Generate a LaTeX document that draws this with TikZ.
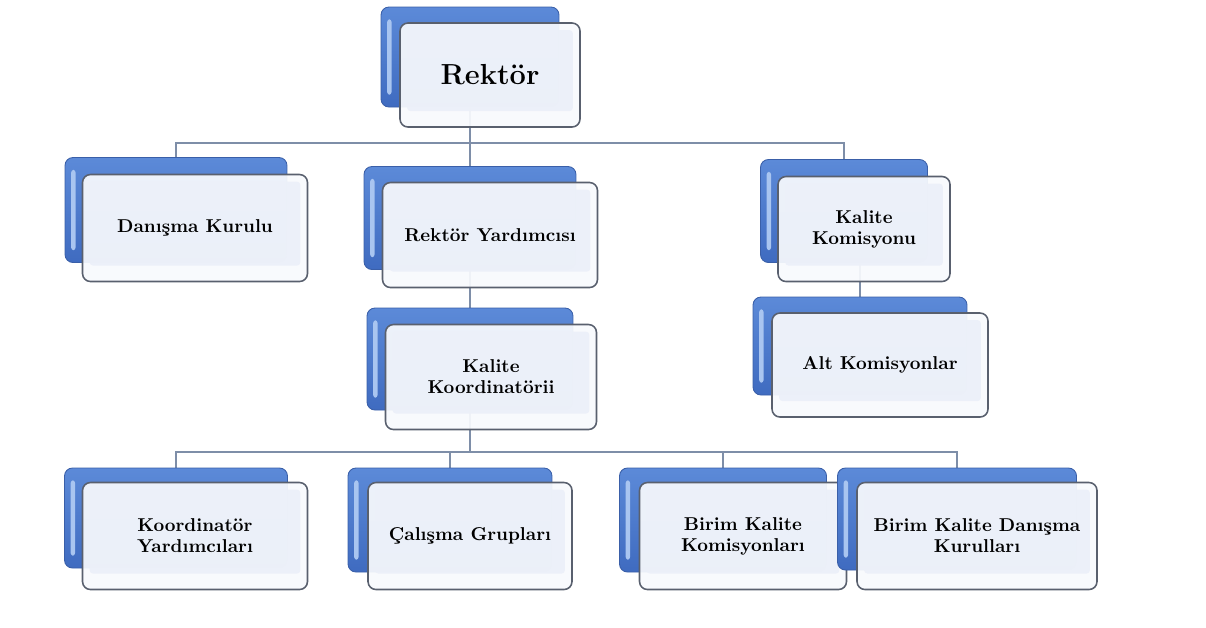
\documentclass[tikz,border=0pt]{standalone}
\usepackage{fontspec}
\usetikzlibrary{backgrounds}

\definecolor{boxtop}{HTML}{5C8AD8}
\definecolor{boxbot}{HTML}{3F6BC0}
\definecolor{boxline}{HTML}{3A5FA8}
\definecolor{boxhi}{HTML}{A9C5F0}
\definecolor{frontfill}{HTML}{F8FAFD}
\definecolor{frontin}{HTML}{ECF0F9}
\definecolor{frontline}{HTML}{59606E}
\definecolor{connline}{HTML}{7E8EA8}

\tikzset{
  back/.style={draw=boxline, line width=0.5pt, top color=boxtop, bottom color=boxbot,
    rounded corners=4.5pt, inner sep=0pt,
    path picture={\fill[boxhi, rounded corners=1.5pt]
      ([xshift=3.5pt,yshift=-7pt]path picture bounding box.north west) rectangle
      ([xshift=6pt,yshift=7pt]path picture bounding box.south west);}},
  front/.style={draw=frontline, line width=0.9pt, fill=frontfill, fill opacity=0.93,
    text opacity=1, rounded corners=4.5pt, inner sep=0pt, align=center,
    font=\bfseries\fontsize{10.6}{12}\selectfont,
    path picture={\fill[frontin, rounded corners=2pt]
      ([shift={(4pt,-4pt)}]path picture bounding box.north west) rectangle
      ([shift={(-4pt,9pt)}]path picture bounding box.south east);}},
  conn/.style={draw=connline, line width=0.9pt},
}

\begin{document}
\begin{tikzpicture}[x=0.02cm, y=-0.02cm]
	\useasboundingbox (0,0) rectangle (1206,627);

	% top
	\node [back, minimum width=3.56cm, minimum height=2.00cm] (rektorB) at (470,57) {};
	\node [front, minimum width=3.60cm, minimum height=2.08cm, font=\bfseries\fontsize{16.5}{19}\selectfont] (rektor) at (490,75) {Rekt\"or};

	% second row
	\node [back, minimum width=4.44cm, minimum height=2.10cm] (danismaB) at (176,210) {};
	\node [front, minimum width=4.50cm, minimum height=2.14cm] (danisma) at (195,228) {Danışma Kurulu};
	\node [back, minimum width=4.24cm, minimum height=2.06cm] (ryardB) at (470,218) {};
	\node [front, minimum width=4.30cm, minimum height=2.10cm] (ryard) at (490,235) {Rektör Yardımcısı};
	\node [back, minimum width=3.34cm, minimum height=2.06cm] (kkomB) at (844,211) {};
	\node [front, minimum width=3.44cm, minimum height=2.10cm] (kkom) at (864,229) {Kalite\\Komisyonu};

	% middle
	\node [back, minimum width=4.12cm, minimum height=2.04cm] (kkoordB) at (470,359) {};
	\node [front, minimum width=4.22cm, minimum height=2.10cm] (kkoord) at (491,377) {Kalite\\Koordinatörii};
	\node [back, minimum width=4.28cm, minimum height=1.96cm] (altB) at (860,346) {};
	\node [front, minimum width=4.32cm, minimum height=2.08cm] (alt) at (880,365) {Alt Komisyonlar};

	% bottom row
	\node [back, minimum width=4.46cm, minimum height=2.00cm] (kyardB) at (176,518) {};
	\node [front, minimum width=4.50cm, minimum height=2.14cm] (kyard) at (195,536) {Koordinatör\\Yardımcıları};
	\node [back, minimum width=4.08cm, minimum height=2.08cm] (calismaB) at (450,520) {};
	\node [front, minimum width=4.08cm, minimum height=2.14cm] (calisma) at (470,536) {Çalışma Grupları};
	\node [back, minimum width=4.14cm, minimum height=2.08cm] (bkkB) at (723,520) {};
	\node [front, minimum width=4.14cm, minimum height=2.14cm] (bkk) at (743,536) {Birim Kalite\\Komisyonları};
	\node [back, minimum width=4.78cm, minimum height=2.04cm] (bkdkB) at (957,519) {};
	\node [front, minimum width=4.80cm, minimum height=2.14cm] (bkdk) at (977,536) {Birim Kalite Danışma\\Kurulları};

	% lines
	\begin{scope}[on background layer]
		\coordinate (bus1) at (470,143);
		\coordinate (bus2) at (470,452);
		\draw [conn] (rektorB.center) -- (ryardB.center);
		\draw [conn] (danismaB.center) -- (danismaB |- bus1) -- (kkomB |- bus1) -- (kkomB.center);
		\draw [conn] (ryardB.center) -- (kkoordB.center);
		\draw [conn] (altB.center) -- (altB |- kkomB.center);
		\draw [conn] (kkoordB.center) -- (bus2);
		\draw [conn] (kyardB.center) -- (kyardB |- bus2) -- (bkdkB |- bus2) -- (bkdkB.center);
		\draw [conn] (calismaB.center) -- (calismaB |- bus2);
		\draw [conn] (bkkB.center) -- (bkkB |- bus2);
	\end{scope}
\end{tikzpicture}
\end{document}
